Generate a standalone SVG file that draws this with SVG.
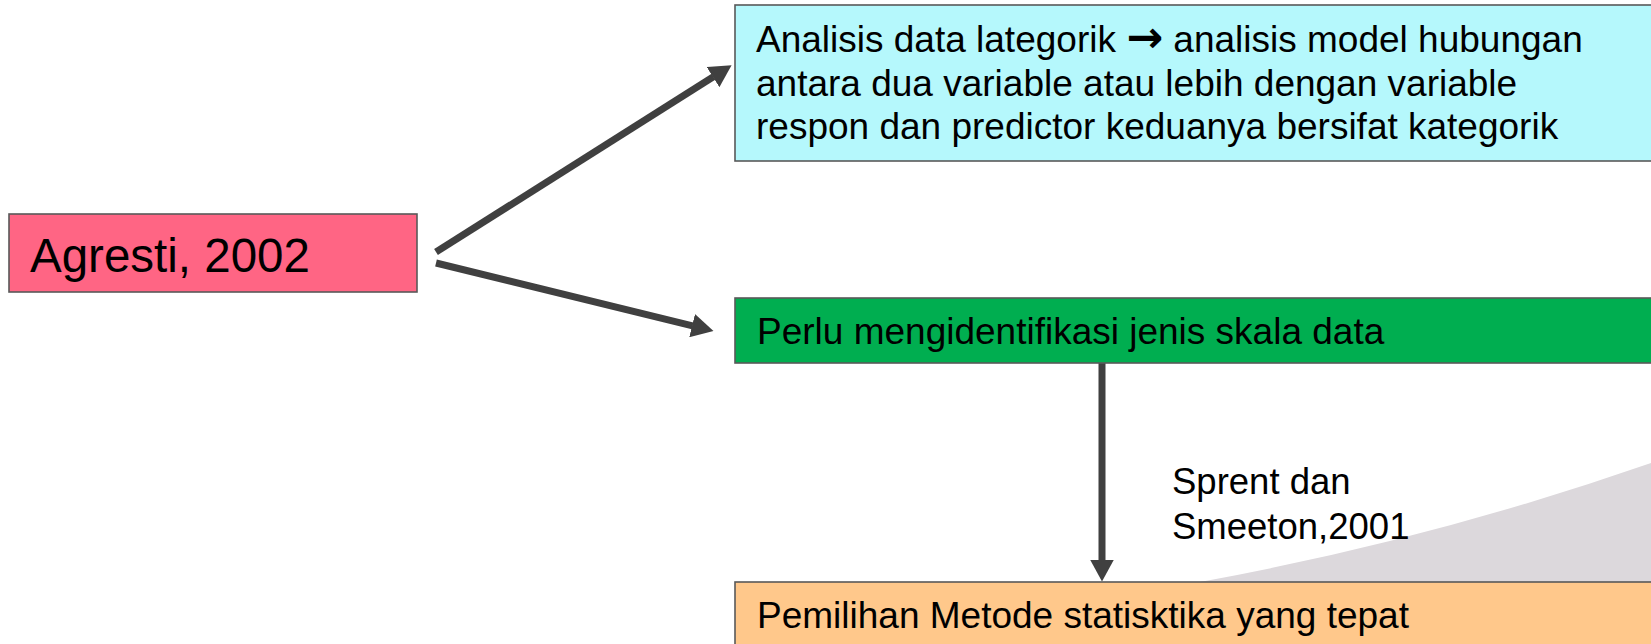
<svg xmlns="http://www.w3.org/2000/svg" width="1651" height="644" viewBox="0 0 1651 644">
  <style>
    .box { stroke: #595959; stroke-width: 1.6; }
    .t { font-family: "Liberation Sans", Arial, sans-serif; fill: #000; }
    .conn { stroke: #404040; stroke-width: 7; fill: none; }
  </style>
  <defs>
    <marker id="ah" markerUnits="userSpaceOnUse" viewBox="0 0 22 24" markerWidth="22" markerHeight="24" refX="0.5" refY="12" orient="auto">
      <path d="M0,0 L22,12 L0,24 Z" fill="#404040"/>
    </marker>
  </defs>
  <rect x="0" y="0" width="1651" height="644" fill="#ffffff"/>
  <path id="swoosh" d="M1200,582 Q1430,540 1651,463 L1651,582 Z" fill="#dcd8dc"/>

  <g id="connectors">
    <line class="conn" x1="436" y1="252" x2="713.4" y2="76.8" marker-end="url(#ah)"/>
    <line class="conn" x1="436" y1="263" x2="692.6" y2="325.8" marker-end="url(#ah)"/>
    <line class="conn" x1="1102" y1="363" x2="1102" y2="560" marker-end="url(#ah)"/>
  </g>

  <g id="agresti">
    <rect class="box" x="9" y="214" width="408" height="78" fill="#ff6584"/>
    <text class="t" x="30" y="272" font-size="47.5">Agresti, 2002</text>
  </g>

  <g id="analisis">
    <rect class="box" x="735" y="5" width="930" height="156" fill="#b5f8fc"/>
    <text class="t" font-size="37">
      <tspan x="756" y="52">Analisis data lategorik <tspan font-family="'DejaVu Sans', sans-serif" font-weight="bold" font-size="44">→</tspan> analisis model hubungan</tspan>
      <tspan x="756" y="95.5">antara dua variable atau lebih dengan variable</tspan>
      <tspan x="756" y="139">respon dan predictor keduanya bersifat kategorik</tspan>
    </text>
  </g>

  <g id="perlu">
    <rect class="box" x="735" y="298" width="930" height="65" fill="#00ae50"/>
    <text class="t" x="757" y="344" font-size="37">Perlu mengidentifikasi jenis skala data</text>
  </g>

  <g id="sprent-label">
    <text class="t" font-size="36.5">
      <tspan x="1172" y="494">Sprent dan</tspan>
      <tspan x="1172" y="539">Smeeton,2001</tspan>
    </text>
  </g>

  <g id="pemilihan">
    <rect class="box" x="735" y="582" width="930" height="80" fill="#ffc88b"/>
    <text class="t" x="757" y="628" font-size="37">Pemilihan Metode statisktika yang tepat</text>
  </g>
</svg>
